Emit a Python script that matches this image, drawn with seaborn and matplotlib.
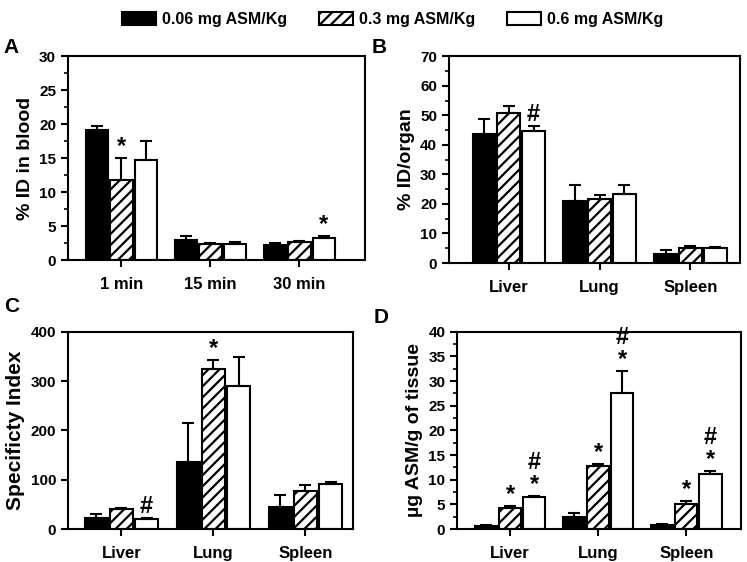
import matplotlib
matplotlib.use('Agg')
import matplotlib.pyplot as plt
import seaborn as sns
import pandas as pd
from matplotlib.patches import Patch
from matplotlib.ticker import MultipleLocator

sns.set_style('ticks')
plt.rcParams['font.family'] = ['Liberation Sans', 'DejaVu Sans']
plt.rcParams['font.weight'] = 'bold'
plt.rcParams['axes.labelweight'] = 'bold'
plt.rcParams['hatch.linewidth'] = 1.6
for key in ['text.color', 'axes.labelcolor', 'xtick.color', 'ytick.color',
            'axes.edgecolor']:
    plt.rcParams[key] = 'black'

# ---- data ----
doses = ['0.06 mg ASM/Kg', '0.3 mg ASM/Kg', '0.6 mg ASM/Kg']
times = ['1 min', '15 min', '30 min']
organs = ['Liver', 'Lung', 'Spleen']

blood_mean = [[19.2, 2.9, 2.3], [11.8, 2.4, 2.7], [14.8, 2.4, 3.2]]
blood_err = [[0.5, 0.6, 0.2], [3.2, 0.2, 0.1], [2.8, 0.3, 0.3]]

organ_mean = [[43.5, 21.0, 3.2], [50.8, 21.5, 5.0], [44.6, 23.2, 5.0]]
organ_err = [[5.3, 5.5, 1.3], [2.4, 1.5, 0.6], [1.7, 3.1, 0.3]]

spec_mean = [[22, 136, 45], [40, 325, 77], [21, 291, 92]]
spec_err = [[8, 79, 23], [3, 17, 13], [2, 58, 3]]

tissue_mean = [[0.7, 2.5, 0.8], [4.2, 12.7, 5.0], [6.5, 27.6, 11.1]]
tissue_err = [[0.1, 0.7, 0.2], [0.4, 0.5, 0.7], [0.2, 4.4, 0.6]]

# significance marks: (dose index, group index, text)
blood_marks = [(1, 0, '*'), (2, 2, '*')]
organ_marks = [(2, 0, '#')]
spec_marks = [(2, 0, '#'), (1, 1, '*')]
tissue_marks = [(1, 0, '*'), (2, 0, '#\n*'), (1, 1, '*'), (2, 1, '#\n*'),
                (1, 2, '*'), (2, 2, '#\n*')]

colors = ['black', 'white', 'white']
hatches = ['', '///', '']

fig = plt.figure(figsize=(7.47, 5.62), dpi=100)


def panel(rect, cats, means, errs, marks, ylabel, ylim, major, minor, xlim,
          letter, letter_pos, ylabel_size=14):
    ax = fig.add_axes(rect)
    rows = []
    for d, dose in enumerate(doses):
        for c, cat in enumerate(cats):
            rows.append({'group': cat, 'dose': dose, 'value': means[d][c]})
    df = pd.DataFrame(rows)
    sns.barplot(data=df, x='group', y='value', hue='dose', order=cats,
                hue_order=doses, palette=colors, edgecolor='black',
                linewidth=1.5, errorbar=None, width=0.82, gap=0.08,
                legend=False, ax=ax)
    bar_conts = list(ax.containers)
    for d, cont in enumerate(bar_conts):
        xs = []
        for p in cont.patches:
            p.set_hatch(hatches[d])
            xs.append(p.get_x() + p.get_width() / 2)
        ax.errorbar(xs, means[d], yerr=[[0] * len(errs[d]), errs[d]], fmt='none',
                    ecolor='black', elinewidth=1.5, capsize=4.5, capthick=1.5,
                    zorder=1)
        for dd, c, txt in marks:
            if dd == d:
                ax.annotate(txt, (xs[c], means[d][c] + errs[d][c]),
                            xytext=(0, 0), textcoords='offset points',
                            ha='center', va='bottom', fontsize=17,
                            fontweight='bold', linespacing=0.95)
    ax.set_ylim(*ylim)
    ax.set_xlim(*xlim)
    ax.yaxis.set_major_locator(MultipleLocator(major))
    if minor:
        ax.yaxis.set_minor_locator(MultipleLocator(minor))
    ax.set_xlabel('')
    ax.set_ylabel(ylabel, fontsize=ylabel_size, fontweight='bold', labelpad=4)
    ax.tick_params(axis='both', labelsize=11, width=1.5, length=5, direction='out')
    ax.tick_params(axis='x', labelsize=12, pad=7)
    ax.tick_params(axis='y', which='minor', width=1.2, length=3)
    for lab in ax.get_xticklabels() + ax.get_yticklabels():
        lab.set_fontweight('bold')
    for s in ax.spines.values():
        s.set_visible(True)
        s.set_linewidth(1.5)
        s.set_color('black')
    fig.text(letter_pos[0], letter_pos[1], letter, fontsize=15, fontweight='bold',
             ha='left', va='center')
    return ax


panel([0.091, 0.537, 0.398, 0.363], times, blood_mean, blood_err, blood_marks,
      '% ID in blood', (0, 30), 5, 2.5, (-0.6, 2.74), 'A', (0.005, 0.915))
panel([0.601, 0.532, 0.390, 0.368], organs, organ_mean, organ_err, organ_marks,
      '% ID/organ', (0, 70), 10, 5, (-0.66, 2.55), 'B', (0.497, 0.915))
panel([0.091, 0.0587, 0.382, 0.351], organs, spec_mean, spec_err, spec_marks,
      'Specificty Index', (0, 400), 100, None, (-0.58, 2.52), 'C', (0.005, 0.455),
      ylabel_size=15)
panel([0.612, 0.0587, 0.380, 0.351], organs, tissue_mean, tissue_err, tissue_marks,
      'µg ASM/g of tissue', (0, 40), 5, 2.5, (-0.6, 2.62), 'D', (0.500, 0.435))

handles = [Patch(facecolor=colors[i], edgecolor='black', hatch=hatches[i],
                 linewidth=1.5, label=doses[i]) for i in range(3)]
fig.legend(handles=handles, loc='upper center', bbox_to_anchor=(0.526, 1.005),
           ncol=3, frameon=False, prop={'size': 11.5, 'weight': 'bold'},
           handlelength=2.1, handleheight=0.9, columnspacing=2.0, handletextpad=0.4)

fig.savefig('out.png', dpi=100)
